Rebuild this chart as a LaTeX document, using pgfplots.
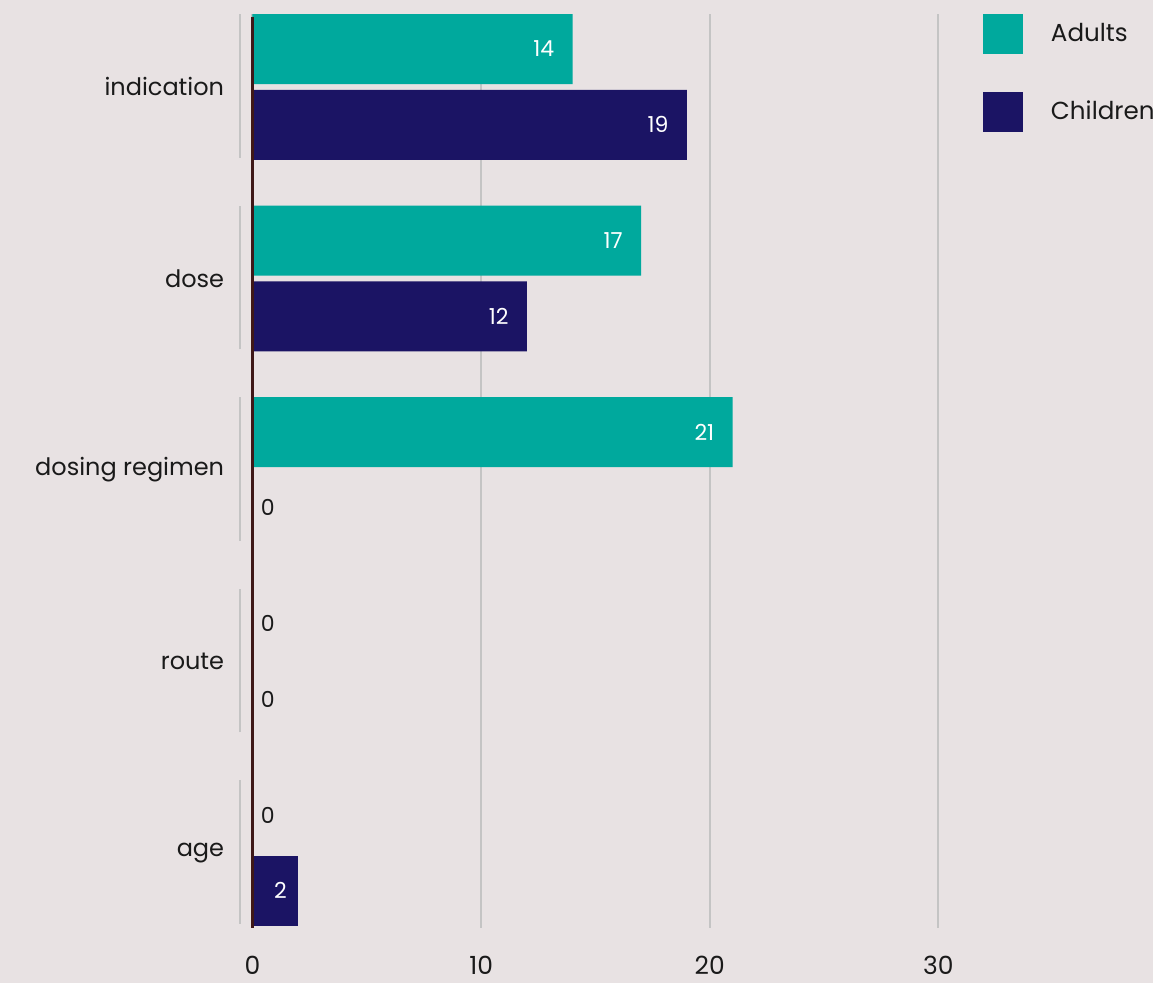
\documentclass[border=0pt]{standalone}
\usepackage{fontspec}
\setmainfont{Poppins}
\usepackage{pgfplots}
\pgfplotsset{compat=1.18}
\definecolor{bg}{RGB}{232,226,227}
\definecolor{teal}{RGB}{0,169,157}
\definecolor{navy}{RGB}{27,20,100}
\definecolor{axisdark}{RGB}{62,24,24}
\definecolor{gridgray}{RGB}{196,196,196}
\definecolor{txt}{RGB}{26,26,26}
\begin{document}
\begin{tikzpicture}
\fill[bg] (-126.25pt,-27.5pt) rectangle (450.25pt,464pt);
\begin{axis}[
  scale only axis,
  width=449.25pt, height=457pt,
  at={(0,0)}, anchor=south west,
  xmin=0, xmax=39.3,
  ymin=-0.392, ymax=4.381,
  xtick={0,10,20,30},
  ytick={0,1,2,3,4},
  yticklabels={age, route, dosing regimen, dose, indication},
  axis line style={draw=none},
  major tick length=0pt,
  xmajorgrids,
  grid style={gridgray, line width=1pt},
  xticklabel style={anchor=north, inner sep=0pt, yshift=-14pt, font=\fontsize{12.5}{14}\selectfont, text=txt},
  yticklabel style={anchor=east, inner sep=0pt, xshift=-14pt, font=\fontsize{12}{14}\selectfont, text=txt},
  /pgf/number format/assume math mode=true,
  xbar, bar width=0.3655,
  clip=false,
  legend image code/.code={\fill[#1] (0pt,-10pt) rectangle (20pt,10pt);},
  legend style={draw=none, fill=none, at={(axis description cs:0.813,1)}, anchor=north west,
    inner sep=0pt, outer sep=0pt, row sep=19pt, font=\fontsize{12.3}{14}\selectfont, text=txt,
    nodes={inner sep=0pt}, legend cell align=left},
]
\addplot[fill=teal, draw=none, bar shift=0.198,
  nodes near coords, nodes near coords style={anchor=east, inner sep=0pt, xshift=-9pt, text=white, font=\fontsize{11}{13}\selectfont}]
  coordinates {(14,4) (17,3) (21,2)};
\addlegendentry{\hspace{14pt}Adults}
\addplot[fill=navy, draw=none, bar shift=-0.198,
  nodes near coords, nodes near coords style={anchor=east, inner sep=0pt, xshift=-9pt, text=white, font=\fontsize{11}{13}\selectfont}]
  coordinates {(19,4) (12,3)};
\addlegendentry{\hspace{14pt}Children}
\addplot[fill=navy, draw=none, bar shift=-0.198, forget plot,
  nodes near coords, nodes near coords style={anchor=east, inner sep=0pt, xshift=-5.5pt, text=white, font=\fontsize{11}{13}\selectfont}]
  coordinates {(2,0)};
\addplot[draw=none, fill=none, bar shift=0.198, forget plot,
  nodes near coords, nodes near coords style={anchor=west, inner sep=0pt, xshift=4pt, text=txt, font=\fontsize{11}{13}\selectfont}]
  coordinates {(0,1) (0,0)};
\addplot[draw=none, fill=none, bar shift=-0.198, forget plot,
  nodes near coords, nodes near coords style={anchor=west, inner sep=0pt, xshift=4pt, text=txt, font=\fontsize{11}{13}\selectfont}]
  coordinates {(0,2) (0,1)};
\draw[axisdark, line width=1.3pt] (axis cs:0,-0.392) -- (axis cs:0,4.365);
\draw[gridgray, line width=1pt] (axis cs:-0.547,3.63) -- (axis cs:-0.547,4.38);
\draw[gridgray, line width=1pt] (axis cs:-0.547,2.63) -- (axis cs:-0.547,3.38);
\draw[gridgray, line width=1pt] (axis cs:-0.547,1.63) -- (axis cs:-0.547,2.38);
\draw[gridgray, line width=1pt] (axis cs:-0.547,0.63) -- (axis cs:-0.547,1.38);
\draw[gridgray, line width=1pt] (axis cs:-0.547,-0.37) -- (axis cs:-0.547,0.38);
\end{axis}
\pgfresetboundingbox
\path (-126.25pt,-27.5pt) rectangle (450.25pt,464pt);
\end{tikzpicture}
\end{document}
